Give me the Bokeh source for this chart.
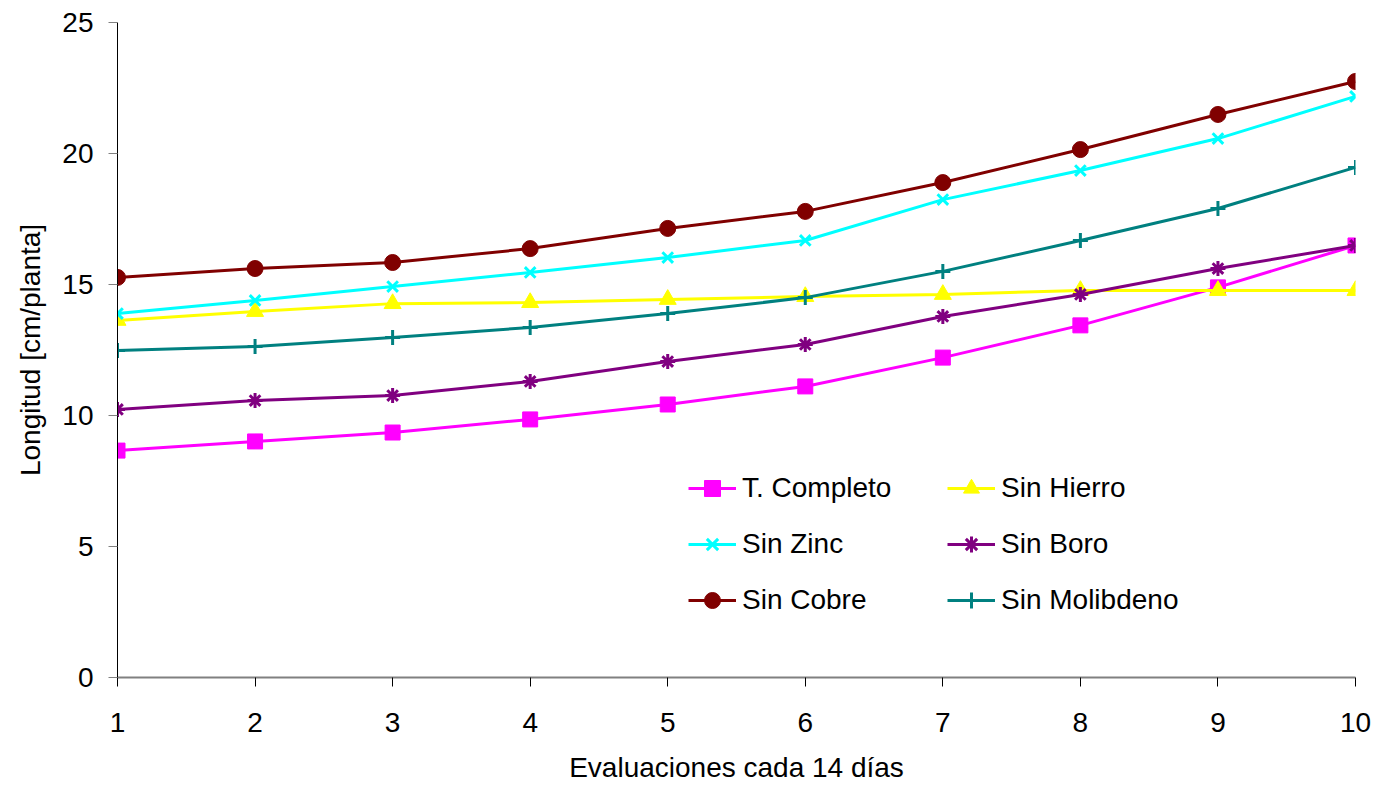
from bokeh.plotting import figure
from bokeh.models import Range1d, Legend, LegendItem, FixedTicker
from bokeh.embed import file_html
from bokeh.resources import INLINE

evaluaciones = [1, 2, 3, 4, 5, 6, 7, 8, 9, 10]
t_completo = [8.66, 9.01, 9.35, 9.85, 10.42, 11.11, 12.21, 13.44, 14.89, 16.49]
sin_hierro = [13.63, 13.97, 14.27, 14.31, 14.43, 14.54, 14.62, 14.77, 14.77, 14.77]
sin_zinc = [13.89, 14.39, 14.92, 15.46, 16.03, 16.68, 18.24, 19.35, 20.57, 22.18]
sin_boro = [10.23, 10.57, 10.76, 11.30, 12.06, 12.71, 13.78, 14.62, 15.61, 16.49]
sin_cobre = [15.27, 15.61, 15.84, 16.37, 17.14, 17.79, 18.89, 20.15, 21.49, 22.75]
sin_molibdeno = [12.48, 12.63, 12.98, 13.36, 13.89, 14.50, 15.50, 16.68, 17.90, 19.47]
y_ticks = [0, 5, 10, 15, 20, 25]

FONT = "Liberation Sans"
FS = "28px"

p = figure(width=1376, height=787, output_backend="svg", toolbar_location=None,
           x_range=Range1d(1, 10), y_range=Range1d(0, 25),
           min_border_left=117, min_border_right=21, min_border_top=22, min_border_bottom=110)
p.outline_line_color = None
p.grid.visible = False

# axes
p.xaxis.ticker = FixedTicker(ticks=evaluaciones)
p.yaxis.ticker = FixedTicker(ticks=y_ticks)
for ax in (p.xaxis[0], p.yaxis[0]):
    ax.major_label_text_font = FONT
    ax.major_label_text_font_size = FS
    ax.major_label_text_color = "black"
    ax.axis_label_text_font = FONT
    ax.axis_label_text_font_size = FS
    ax.axis_label_text_font_style = "normal"
    ax.axis_label_text_color = "black"
    ax.minor_tick_line_color = None
    ax.major_tick_in = 0
    ax.major_tick_line_width = 1

p.xaxis.axis_label = "Evaluaciones cada 14 días"
p.yaxis.axis_label = "Longitud [cm/planta]"
p.xaxis.axis_line_color = "#808080"
p.xaxis.axis_line_width = 2
p.xaxis.major_tick_line_color = "black"
p.xaxis.major_tick_out = 9
p.xaxis.major_label_standoff = 26
p.xaxis.axis_label_standoff = 17
p.yaxis.axis_line_color = "black"
p.yaxis.major_tick_line_color = "#808080"
p.yaxis.major_tick_out = 9
p.yaxis.major_label_standoff = 15
p.yaxis.axis_label_standoff = 13

series = [
    ("T. Completo", t_completo, "#FF00FF", "square", 15),
    ("Sin Hierro", sin_hierro, "#FFFF00", "triangle", 17),
    ("Sin Zinc", sin_zinc, "#00FFFF", "x", 15),
    ("Sin Boro", sin_boro, "#800080", "asterisk", 15),
    ("Sin Cobre", sin_cobre, "#800000", "circle", 16),
    ("Sin Molibdeno", sin_molibdeno, "#008080", "cross", 15),
]

items = []
for name, vals, color, marker, size in series:
    ln = p.line(evaluaciones, vals, line_color=color, line_width=3)
    if marker in ("x", "asterisk", "cross"):
        sc = p.scatter(evaluaciones, vals, marker=marker, size=size,
                       line_color=color, line_width=3, fill_color=None)
    else:
        sc = p.scatter(evaluaciones, vals, marker=marker, size=size,
                       line_color=color, fill_color=color, line_width=1)
    items.append(LegendItem(label=name, renderers=[ln, sc]))

col1 = [items[0], items[2], items[4]]
col2 = [items[1], items[3], items[5]]
for its, xloc in ((col1, 571), (col2, 830)):
    lg = Legend(items=its, location=(xloc, 57), orientation="vertical",
                glyph_width=48, glyph_height=40, label_height=40,
                label_standoff=6, spacing=16, padding=0, margin=0,
                border_line_color=None, background_fill_alpha=0,
                label_text_font=FONT, label_text_font_size=FS,
                label_text_color="black")
    p.add_layout(lg, "center")

open("out.html", "w").write(file_html(p, INLINE))
